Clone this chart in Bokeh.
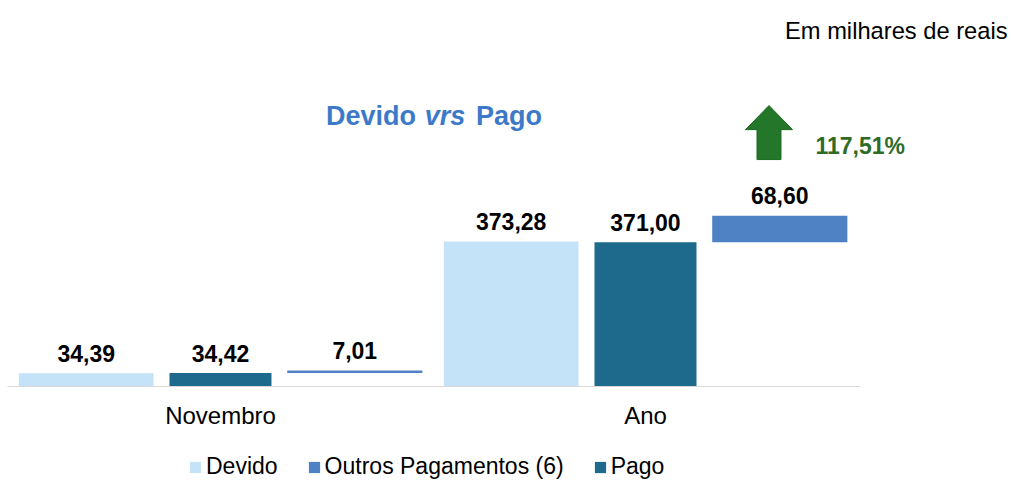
from bokeh.plotting import figure
from bokeh.models import Range1d, Label, Legend, LegendItem, ColumnDataSource, LinearAxis, FixedTicker
from bokeh.core.properties import value
from bokeh.embed import file_html
from bokeh.resources import INLINE

# ---- data ----
periods = ["Novembro", "Ano"]
devido = [34.39, 373.28]
pago = [34.42, 371.00]
outros = [7.01, 68.60]          # drawn floating on top of "Pago"
variation_text = "117,51%"
unit_note = "Em milhares de reais"
series_names = ["Devido", "Outros Pagamentos (6)", "Pago"]

def fmt(v):
    return f"{v:.2f}".replace(".", ",")

# category centres on a numeric axis (category i spans [i, i+1])
centers = [i + 0.5 for i in range(len(periods))]
OFF_DEV, OFF_OUT = -0.316, 0.316
W_DEV, W_PAGO, W_OUT = 0.317, 0.24, 0.318

outros_top = [b + o for b, o in zip(pago, outros)]

src = ColumnDataSource(dict(
    x_dev=[c + OFF_DEV for c in centers],
    x_pago=centers,
    x_out=[c + OFF_OUT for c in centers],
    devido=devido, pago=pago,
    outros_bottom=pago, outros_top=outros_top,
    devido_lbl=[fmt(v) for v in devido],
    pago_lbl=[fmt(v) for v in pago],
    outros_lbl=[fmt(v) for v in outros],
))

FONT = "Liberation Sans"
C_DEV = "#C5E3F8"
C_OUT = "#4F82C5"
C_PAGO = "#1D6A8C"

p = figure(width=1011, height=480,
           x_range=Range1d(-0.0176, 2.3612),
           y_range=Range1d(-241.9, 993.3),
           x_axis_location=None, y_axis_location=None,
           toolbar_location=None, output_backend="svg",
           min_border_left=0, min_border_right=0,
           min_border_top=0, min_border_bottom=0)
p.outline_line_color = None
p.grid.grid_line_color = None
p.background_fill_color = "white"
p.border_fill_color = "white"

r_dev = p.vbar(x="x_dev", top="devido", bottom=0, width=W_DEV, source=src,
               fill_color=C_DEV, line_color=None)
r_pago = p.vbar(x="x_pago", top="pago", bottom=0, width=W_PAGO, source=src,
                fill_color=C_PAGO, line_color=None)
r_out = p.vbar(x="x_out", top="outros_top", bottom="outros_bottom", width=W_OUT, source=src,
               fill_color=C_OUT, line_color=None)

lbl_kw = dict(source=src, text_align="center", text_baseline="middle",
              text_font=value(FONT), text_font_style="bold", text_font_size="23px",
              text_color="#000000", y_offset=-20)
p.text(x="x_dev", y="devido", text="devido_lbl", **lbl_kw)
p.text(x="x_pago", y="pago", text="pago_lbl", **lbl_kw)
p.text(x="x_out", y="outros_top", text="outros_lbl", **lbl_kw)

# category axis drawn at y = 0 inside the frame
ax = LinearAxis(ticker=FixedTicker(ticks=centers),
                major_label_overrides={c: lab for c, lab in zip(centers, periods)},
                fixed_location=0, bounds=(0.0, 2.006))
ax.axis_line_color = "#D9D9D9"
ax.axis_line_width = 1
ax.major_tick_line_color = None
ax.minor_tick_line_color = None
ax.major_label_text_font = FONT
ax.major_label_text_font_size = "24px"
ax.major_label_text_color = "#000000"
ax.major_label_standoff = 10
p.add_layout(ax, "below")

# title pieces
TITLE_C = "#3C7AC9"
ty = 697
for txt, style, align, xo in [("Devido", "bold", "right", -17),
                              ("vrs", "bold italic", "center", 12),
                              ("Pago", "bold", "left", 43)]:
    p.add_layout(Label(x=1.0, y=ty, x_offset=xo, text=txt, text_font=FONT,
                       text_font_style=style, text_font_size="27px",
                       text_color=TITLE_C, text_align=align, text_baseline="middle"))

# unit note
p.add_layout(Label(x=2.3518, y=916, text=unit_note, text_font=FONT, text_font_size="23.7px",
                   text_color="#000000", text_align="right", text_baseline="middle"))

# up arrow decoration
xc, hs, hh = 1.7906, 0.0282, 0.0553
y_top, y_head, y_bot = 723, 661, 584
p.patch([xc - hs, xc - hs, xc - hh, xc, xc + hh, xc + hs, xc + hs],
        [y_bot, y_head, y_head, y_top, y_head, y_head, y_bot],
        fill_color="#23762A", line_color="#1C6A22", line_width=1)

p.add_layout(Label(x=1.900, y=620, text=variation_text, text_font=FONT,
                   text_font_style="bold", text_font_size="23px",
                   text_color="#2F6B27", text_align="left", text_baseline="middle"))

legend = Legend(items=[LegendItem(label=series_names[0], renderers=[r_dev]),
                       LegendItem(label=series_names[1], renderers=[r_out]),
                       LegendItem(label=series_names[2], renderers=[r_pago])],
                location=(188, 0), orientation="horizontal",
                glyph_width=14, glyph_height=14, label_standoff=4, spacing=29,
                padding=0, margin=0, border_line_color=None, background_fill_alpha=0,
                label_text_font=FONT, label_text_font_size="23px", label_height=26,
                label_text_color="#000000")
p.add_layout(legend)

open("out.html", "w").write(file_html(p, INLINE))
